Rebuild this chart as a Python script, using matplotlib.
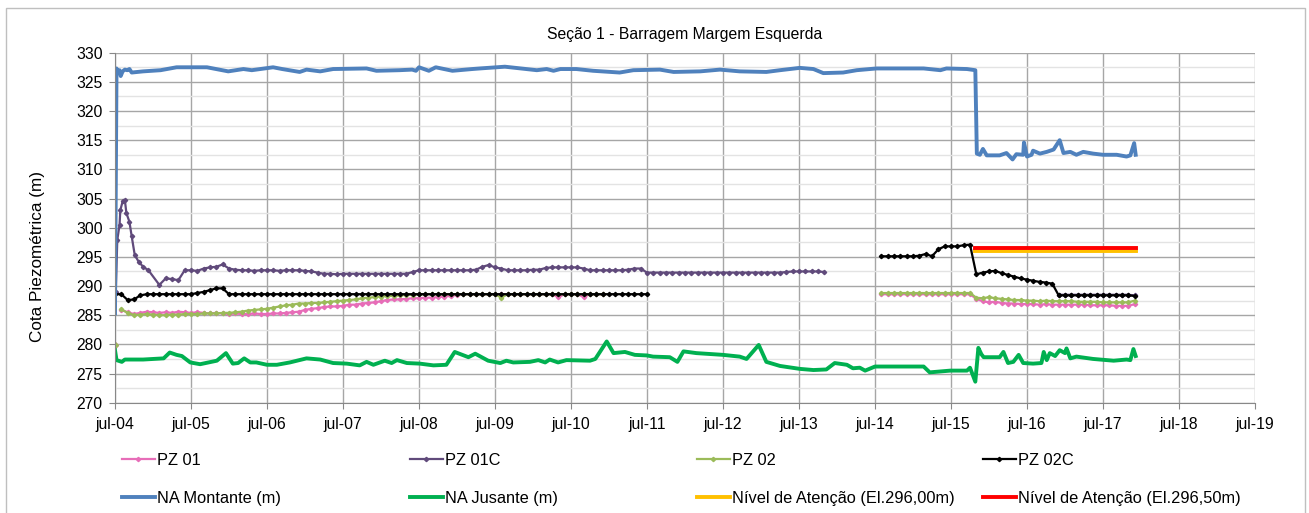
import numpy as np
import matplotlib
matplotlib.use("Agg")
import matplotlib.pyplot as plt
from matplotlib.patches import Rectangle

plt.rcParams['font.family'] = ['Liberation Sans', 'DejaVu Sans']

# ---- dados (anos decimais; jul = .5) ----
years = list(range(2004, 2020))
xlabels = ['jul-%02d' % (y % 100) for y in years]


def meses(ano, mes, n):
    # posicao de cada leitura mensal (1o dia do mes)
    return ano + (mes - 1) / 12.0 + np.arange(n) / 12.0


# PZ 01 - primeira leitura isolada, depois mensal ago/2004 - dez/2010
pz01_x0 = [2004.5]
pz01_y0 = [279.9]
pz01_a = [285.9, 285.5, 285.2, 285.4, 285.6,
          285.5, 285.4, 285.5, 285.4, 285.6, 285.5, 285.4, 285.5, 285.4, 285.3, 285.4, 285.3,
          285.2, 285.3, 285.2, 285.2, 285.3, 285.2, 285.2, 285.3, 285.3, 285.4, 285.5, 285.6,
          285.9, 286.1, 286.2, 286.4, 286.5, 286.5, 286.6, 286.8, 286.8, 287.0, 287.1, 287.2,
          287.4, 287.6, 287.7, 287.7, 287.8, 287.9, 287.9, 288.0, 288.0, 288.1, 288.2, 288.3,
          288.5, 288.6, 288.6, 288.6, 288.6, 288.6, 288.6, 288.6, 288.6, 288.6, 288.6, 288.6,
          288.6, 288.6, 288.6, 288.6, 288.1, 288.6, 288.6, 288.6, 288.1, 288.6, 288.6, 288.6]
# mensal ago/2014 - dez/2017
pz01_b = [288.6, 288.6, 288.6, 288.6, 288.6,
          288.6, 288.6, 288.6, 288.6, 288.6, 288.6, 288.6, 288.6, 288.6, 288.6, 287.8, 287.4,
          287.2, 287.3, 287.1, 287.0, 287.0, 286.9, 286.9, 286.9, 286.8, 286.9, 286.8, 286.8,
          286.8, 286.8, 286.8, 286.8, 286.7, 286.7, 286.7, 286.7, 286.6, 286.6, 286.6, 286.9]

# PZ 01C - leituras densas no inicio, depois mensal fev/2005 - nov/2013
pz01c_x0 = [2004.51, 2004.53, 2004.56, 2004.57, 2004.60, 2004.63, 2004.65,
            2004.69, 2004.72, 2004.76, 2004.81, 2004.87, 2004.94]
pz01c_y0 = [289.0, 297.9, 300.5, 303.0, 304.5, 304.7, 302.5,
            301.0, 298.5, 295.3, 294.2, 293.3, 292.7]
pz01c_a = [290.2, 291.3, 291.2, 291.0, 292.7, 292.7, 292.6, 293.0, 293.2, 293.3, 293.7,
           293.0, 292.8, 292.7, 292.7, 292.6, 292.7, 292.7, 292.7, 292.6, 292.7, 292.7, 292.7,
           292.6, 292.5, 292.3, 292.1, 292.1, 292.0, 292.1, 292.1, 292.1, 292.1, 292.1, 292.1,
           292.1, 292.1, 292.1, 292.1, 292.1, 292.4, 292.7, 292.7, 292.7, 292.7, 292.7, 292.7,
           292.7, 292.7, 292.7, 292.8, 293.3, 293.6, 293.2, 293.0, 292.7, 292.7, 292.7, 292.7,
           292.8, 292.8, 293.1, 293.2, 293.2, 293.2, 293.2, 293.2, 293.0, 292.7, 292.7, 292.7,
           292.7, 292.7, 292.7, 292.8, 293.0, 293.0, 292.3, 292.3, 292.3, 292.3, 292.3, 292.3,
           292.3, 292.3, 292.3, 292.3, 292.3, 292.3, 292.3, 292.3, 292.3, 292.3, 292.3, 292.3,
           292.3, 292.3, 292.3, 292.3, 292.4, 292.5, 292.5, 292.5, 292.5, 292.5, 292.4]
# mensal dez/2016 - dez/2017
pz01c_b = [288.5, 288.5, 288.5, 288.5, 288.5, 288.5, 288.5,
           288.5, 288.5, 288.5, 288.5, 288.5, 288.4]

# PZ 02 - primeira leitura isolada, depois mensal ago/2004 - dez/2010
pz02_x0 = [2004.5]
pz02_y0 = [279.9]
pz02_a = [286.0, 285.4, 285.0, 285.1, 285.2,
          285.1, 285.0, 285.0, 285.1, 285.1, 285.2, 285.2, 285.2, 285.3, 285.3, 285.3, 285.4,
          285.4, 285.5, 285.6, 285.8, 285.9, 286.0, 286.1, 286.3, 286.5, 286.7, 286.8, 287.0,
          287.0, 287.1, 287.1, 287.2, 287.3, 287.4, 287.5, 287.6, 287.7, 287.9, 288.0, 288.1,
          288.2, 288.3, 288.3, 288.4, 288.5, 288.5, 288.6, 288.6, 288.6, 288.6, 288.6, 288.6,
          288.6, 288.6, 288.6, 288.6, 288.6, 288.6, 288.6, 288.0, 288.6, 288.6, 288.6, 288.6,
          288.6, 288.6, 288.6, 288.6, 288.6, 288.6, 288.6, 288.6, 288.6, 288.6, 288.6, 288.6]
pz02_b = [288.8, 288.8, 288.8, 288.8, 288.8,
          288.8, 288.8, 288.8, 288.8, 288.8, 288.8, 288.8, 288.8, 288.8, 288.8, 288.0, 287.9,
          288.1, 287.9, 287.8, 287.7, 287.6, 287.6, 287.5, 287.5, 287.4, 287.5, 287.4, 287.4,
          287.4, 287.4, 287.3, 287.3, 287.3, 287.3, 287.2, 287.2, 287.2, 287.2, 287.2, 287.5]

# PZ 02C - mensal jul/2004 - jul/2011
pz02c_a = [288.6, 288.6, 287.6, 287.7, 288.4, 288.6,
           288.6, 288.6, 288.6, 288.6, 288.6, 288.6, 288.6, 288.8, 289.0, 289.3, 289.6, 289.6,
           288.6, 288.6, 288.6, 288.6, 288.6, 288.6, 288.6, 288.6, 288.6, 288.6, 288.6, 288.6,
           288.6, 288.6, 288.6, 288.6, 288.6, 288.6, 288.6, 288.6, 288.6, 288.6, 288.6, 288.6,
           288.6, 288.6, 288.6, 288.6, 288.6, 288.6, 288.6, 288.6, 288.6, 288.6, 288.6, 288.6,
           288.6, 288.6, 288.6, 288.6, 288.6, 288.6, 288.6, 288.6, 288.6, 288.6, 288.6, 288.6,
           288.6, 288.6, 288.6, 288.6, 288.6, 288.6, 288.6, 288.6, 288.6, 288.6, 288.6, 288.6,
           288.6, 288.6, 288.6, 288.6, 288.6, 288.6, 288.6]
# mensal ago/2014 - dez/2017
pz02c_b = [295.1, 295.1, 295.1, 295.1, 295.1,
           295.1, 295.2, 295.5, 295.1, 296.3, 296.8, 296.8, 296.8, 297.0, 297.1, 292.0, 292.3,
           292.5, 292.6, 292.2, 291.9, 291.6, 291.3, 291.1, 290.9, 290.7, 290.6, 290.4, 288.4,
           288.4, 288.4, 288.4, 288.4, 288.4, 288.4, 288.4, 288.4, 288.4, 288.4, 288.4, 288.3]

# NA Montante
mont_x = [2004.50, 2004.52, 2004.54, 2004.56, 2004.575, 2004.60, 2004.63, 2004.66, 2004.69,
          2004.72, 2004.87, 2005.10, 2005.31, 2005.71, 2005.99, 2006.19, 2006.30, 2006.58,
          2006.70, 2006.93, 2007.02, 2007.20, 2007.37, 2007.81, 2007.94, 2008.24, 2008.41,
          2008.46, 2008.50, 2008.63, 2008.72, 2008.94, 2009.20, 2009.30, 2009.63, 2010.05,
          2010.18, 2010.27, 2010.36, 2010.57, 2010.79, 2011.14, 2011.32, 2011.67, 2011.85,
          2012.20, 2012.46, 2012.72, 2013.07, 2013.25, 2013.51, 2013.69, 2013.82, 2014.08,
          2014.26, 2014.52, 2015.14, 2015.36, 2015.44, 2015.71, 2015.82, 2015.84, 2015.88,
          2015.92, 2015.97, 2016.14, 2016.23, 2016.31, 2016.36, 2016.45, 2016.46, 2016.50,
          2016.56, 2016.58, 2016.67, 2016.76, 2016.85, 2016.93, 2016.98, 2017.07, 2017.15,
          2017.24, 2017.37, 2017.50, 2017.68, 2017.81, 2017.86, 2017.91, 2017.93]
mont_y = [285.3, 327.3, 326.6, 327.0, 326.0, 326.8, 327.1, 327.0, 327.2,
          326.6, 326.8, 327.0, 327.5, 327.5, 326.8, 327.2, 327.0, 327.5,
          327.2, 326.7, 327.1, 326.8, 327.2, 327.3, 326.9, 327.0, 327.1,
          326.9, 327.5, 326.9, 327.5, 326.9, 327.2, 327.3, 327.6, 327.0,
          327.2, 326.9, 327.2, 327.2, 326.9, 326.6, 327.0, 327.1, 326.7,
          326.8, 327.1, 326.8, 326.7, 327.0, 327.4, 327.2, 326.5, 326.6,
          327.0, 327.3, 327.3, 327.0, 327.3, 327.2, 327.0, 312.7, 312.5,
          313.5, 312.4, 312.4, 312.8, 311.7, 312.6, 312.5, 314.6, 312.2,
          312.5, 313.2, 312.7, 313.0, 313.4, 315.0, 312.8, 313.0, 312.5,
          313.0, 312.7, 312.5, 312.5, 312.2, 312.4, 314.5, 312.5]

# NA Jusante
jus_x = [2004.50, 2004.52, 2004.59, 2004.63, 2004.87, 2005.14, 2005.22, 2005.31, 2005.38,
         2005.49, 2005.62, 2005.84, 2005.96, 2006.05, 2006.12, 2006.20, 2006.28, 2006.36,
         2006.50, 2006.63, 2006.80, 2007.02, 2007.20, 2007.37, 2007.55, 2007.72, 2007.81,
         2007.90, 2008.05, 2008.14, 2008.21, 2008.34, 2008.51, 2008.69, 2008.86, 2008.97,
         2009.15, 2009.24, 2009.41, 2009.57, 2009.65, 2009.74, 2009.96, 2010.07, 2010.16,
         2010.22, 2010.33, 2010.44, 2010.75, 2010.82, 2010.97, 2011.06, 2011.21, 2011.34,
         2011.50, 2011.58, 2011.80, 2011.90, 2011.98, 2012.15, 2012.50, 2012.72, 2012.81,
         2012.97, 2013.07, 2013.25, 2013.51, 2013.69, 2013.86, 2013.97, 2014.13, 2014.21,
         2014.30, 2014.37, 2014.50, 2015.14, 2015.22, 2015.49, 2015.71, 2015.75, 2015.82,
         2015.86, 2015.90, 2015.93, 2016.14, 2016.19, 2016.25, 2016.32, 2016.39, 2016.45,
         2016.58, 2016.69, 2016.72, 2016.76, 2016.80, 2016.87, 2016.93, 2017.00, 2017.02,
         2017.07, 2017.15, 2017.37, 2017.64, 2017.81, 2017.86, 2017.90, 2017.93]
jus_y = [279.0, 277.3, 277.0, 277.4, 277.4, 277.6, 278.6, 278.2, 278.0,
         276.9, 276.6, 277.2, 278.5, 276.7, 276.8, 277.6, 276.9, 276.9,
         276.5, 276.5, 276.9, 277.6, 277.4, 276.8, 276.7, 276.4, 277.0,
         276.5, 277.2, 276.8, 277.3, 276.8, 276.7, 276.4, 276.5, 278.7,
         277.8, 278.4, 277.2, 276.8, 277.2, 276.9, 277.0, 277.3, 276.9,
         277.4, 276.9, 277.3, 277.2, 277.5, 280.5, 278.5, 278.7, 278.2,
         278.1, 277.9, 277.8, 277.0, 278.8, 278.5, 278.2, 277.9, 277.5,
         279.9, 277.0, 276.3, 275.8, 275.6, 275.7, 276.8, 276.5, 275.9,
         276.0, 275.5, 276.2, 276.2, 275.2, 275.5, 275.5, 276.0, 273.6,
         279.4, 278.3, 277.8, 277.8, 278.7, 276.8, 277.0, 278.2, 276.8,
         276.7, 276.8, 278.7, 277.3, 278.5, 278.0, 279.0, 278.5, 279.3,
         277.6, 277.9, 277.5, 277.2, 277.4, 277.3, 279.2, 278.0]

# niveis de atencao
aten_x = [2015.82, 2017.94]
aten_296 = [296.0, 296.0]
aten_2965 = [296.5, 296.5]

# ---- figura ----
W, H = 1309, 513
fig = plt.figure(figsize=(W / 100, H / 100), dpi=100)
fig.patches.append(Rectangle((6 / W, -0.01), 1299 / W, 1 - 8 / H + 0.01,
                             transform=fig.transFigure, fill=False,
                             edgecolor='#BFBFBF', linewidth=1))
ax = fig.add_axes([115 / W, 1 - 402.7 / H, 1140 / W, 350 / H])

c_pz01 = '#E76DB8'
c_pz01c = '#604A7B'
c_pz02 = '#9BBB59'
c_pz02c = '#000000'
c_mont = '#4F81BD'
c_jus = '#00B050'
mk = dict(marker='D', markersize=2.2, linewidth=1.6)

ax.plot(pz01_x0, pz01_y0, color=c_pz01, linestyle='none', marker='D', markersize=3)
ax.plot(meses(2004, 8, len(pz01_a)), pz01_a, color=c_pz01, **mk)
ax.plot(meses(2014, 8, len(pz01_b)), pz01_b, color=c_pz01, **mk)

ax.plot(pz01c_x0 + list(meses(2005, 2, len(pz01c_a))), pz01c_y0 + pz01c_a, color=c_pz01c, **mk)
ax.plot(meses(2016, 12, len(pz01c_b)), pz01c_b, color=c_pz01c, **mk)

ax.plot(pz02_x0, pz02_y0, color=c_pz02, linestyle='none', marker='D', markersize=3)
ax.plot(meses(2004, 8, len(pz02_a)), pz02_a, color=c_pz02, **mk)
ax.plot(meses(2014, 8, len(pz02_b)), pz02_b, color=c_pz02, **mk)

ax.plot(meses(2004, 7, len(pz02c_a)), pz02c_a, color=c_pz02c, **mk)
ax.plot(meses(2014, 8, len(pz02c_b)), pz02c_b, color=c_pz02c, **mk)

ax.plot(mont_x, mont_y, color=c_mont, linewidth=2.8)
ax.plot(jus_x, jus_y, color=c_jus, linewidth=2.8)
ax.plot(aten_x, aten_296, color='#FFC000', linewidth=2.8)
ax.plot(aten_x, aten_2965, color='#FF0000', linewidth=2.8)

ax.set_xlim(2004.5, 2019.5)
ax.set_ylim(270, 330)
ax.set_xticks([y + 0.5 for y in years])
ax.set_xticklabels(xlabels)
ax.set_yticks(np.arange(270, 331, 5))
ax.set_yticks(np.arange(272.5, 330, 5), minor=True)
ax.grid(True, which='major', color='#A6A6A6', linewidth=1)
ax.grid(True, which='minor', axis='y', color='#E3E3E3', linewidth=1)
ax.set_axisbelow(True)
ax.tick_params(axis='both', which='major', labelsize=11.3, length=4, color='#888888')
ax.tick_params(axis='x', which='major', pad=6)
ax.tick_params(axis='y', which='major', pad=5)
ax.tick_params(axis='y', which='minor', length=0)
for s in ['top', 'right']:
    ax.spines[s].set_visible(False)
for s in ['left', 'bottom']:
    ax.spines[s].set_color('#888888')

ax.set_title('Seção 1 - Barragem Margem Esquerda', fontsize=11.3, pad=10)
fig.text(38 / W, 1 - 256 / H, 'Cota Piezométrica (m)', rotation=90,
         ha='center', va='center', fontsize=12.3)

# legenda: 4 colunas, 2 linhas
cols = [
    ([plt.Line2D([], [], color=c_pz01, **mk), plt.Line2D([], [], color=c_mont, linewidth=2.8)],
     ['PZ 01', 'NA Montante (m)'], 122),
    ([plt.Line2D([], [], color=c_pz01c, **mk), plt.Line2D([], [], color=c_jus, linewidth=2.8)],
     ['PZ 01C', 'NA Jusante (m)'], 410),
    ([plt.Line2D([], [], color=c_pz02, **mk), plt.Line2D([], [], color='#FFC000', linewidth=2.8)],
     ['PZ 02', 'Nível de Atenção (El.296,00m)'], 697),
    ([plt.Line2D([], [], color=c_pz02c, **mk), plt.Line2D([], [], color='#FF0000', linewidth=2.8)],
     ['PZ 02C', 'Nível de Atenção (El.296,50m)'], 983),
]
for hs, labs, x0 in cols:
    fig.legend(hs, labs, loc='upper left', bbox_to_anchor=(x0 / W, 1 - 453 / H),
               frameon=False, fontsize=11.8, handlelength=2.0, handletextpad=0.12,
               labelspacing=1.4, borderaxespad=0, borderpad=0)

fig.savefig('out.png', dpi=100)
